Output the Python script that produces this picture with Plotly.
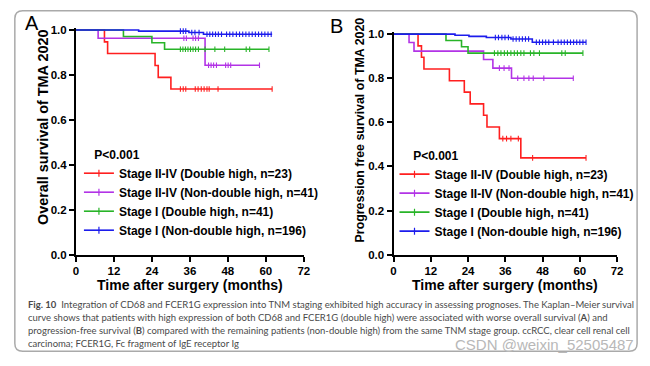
import plotly.graph_objects as go

W, H = 650, 366

# ---------------- data ----------------
month_ticks = [0, 12, 24, 36, 48, 60, 72]
surv_ticks = [0.0, 0.2, 0.4, 0.6, 0.8, 1.0]
surv_tick_labels = ["0.0", "0.2", "0.4", "0.6", "0.8", "1.0"]

group_names = [
    "Stage II-IV (Double high, n=23)",
    "Stage II-IV (Non-double high, n=41)",
    "Stage I (Double high, n=41)",
    "Stage I (Non-double high, n=196)",
]
group_colors = ["#ff1f1f", "#b233e6", "#28b428", "#1c1cec"]

# Panel A: overall survival (event times, survival after event, follow-up end, censor times)
os_red_times = [9.0, 10.0, 25.0, 26.0, 30.0]
os_red_surv = [0.947, 0.895, 0.842, 0.789, 0.737]
os_red_end = 62.0
os_red_censor = [33.0, 33.9, 34.7, 37.7, 38.6, 39.6, 40.5, 41.4, 42.1, 44.9, 62.0]

os_purple_times = [7.0, 40.8]
os_purple_surv = [0.963, 0.843]
os_purple_end = 58.0
os_purple_censor = [34.1, 34.9, 37.0, 37.8, 38.7, 41.9, 42.7, 43.5, 44.4, 47.3, 48.1, 48.9, 58.0]

os_green_times = [15.0, 24.0, 28.0]
os_green_surv = [0.971, 0.943, 0.914]
os_green_end = 61.0
os_green_censor = [33.0, 33.8, 34.6, 35.4, 36.2, 37.0, 37.8, 38.7, 40.8, 43.9, 47.0, 53.8, 54.9, 61.0]

os_blue_times = [19.8, 35.7, 40.3]
os_blue_surv = [0.995, 0.989, 0.981]
os_blue_end = 62.0
os_blue_censor = [33.0, 33.9, 34.7, 36.6, 37.6, 38.9, 41.4, 42.3, 43.2, 44.1, 45.0, 46.0, 47.6, 48.6,
                  49.6, 50.7, 51.7, 52.7, 53.7, 54.7, 55.7, 56.7, 57.7, 58.7, 59.7, 60.7, 61.7]

# Panel B: progression-free survival
pfs_red_times = [7.9, 9.0, 9.8, 18.0, 22.8, 24.7, 29.0, 30.1, 34.1, 41.0]
pfs_red_surv = [0.947, 0.895, 0.842, 0.789, 0.737, 0.684, 0.632, 0.579, 0.526, 0.439]
pfs_red_end = 62.0
pfs_red_censor = [35.2, 36.4, 37.8, 40.2, 44.8, 62.0]

pfs_purple_times = [5.0, 6.6, 29.0, 32.0, 38.0]
pfs_purple_surv = [0.962, 0.923, 0.885, 0.846, 0.800]
pfs_purple_end = 57.9
pfs_purple_censor = [34.1, 35.6, 37.2, 40.0, 42.0, 43.6, 45.0, 48.4, 57.9]

pfs_green_times = [16.9, 21.9, 24.0]
pfs_green_surv = [0.971, 0.943, 0.914]
pfs_green_end = 61.0
pfs_green_censor = [32.5, 33.6, 34.6, 35.7, 36.7, 37.8, 38.9, 39.9, 41.0, 42.0, 44.1, 45.2, 47.0,
                    54.2, 55.3, 61.0]

pfs_blue_times = [19.8, 24.3, 29.9, 37.8, 44.7]
pfs_blue_surv = [0.995, 0.990, 0.985, 0.978, 0.963]
pfs_blue_end = 62.0
pfs_blue_censor = [32.8, 33.8, 34.9, 35.9, 37.0, 38.5, 39.5, 40.5, 41.5, 42.5, 43.5, 46.0, 47.0, 48.0,
                   49.0, 50.0, 51.5, 53.0, 54.0, 55.0, 56.0, 57.0, 58.0, 59.0, 60.0, 61.0, 62.0]

os_curves = [
    (os_red_times, os_red_surv, os_red_end, os_red_censor),
    (os_purple_times, os_purple_surv, os_purple_end, os_purple_censor),
    (os_green_times, os_green_surv, os_green_end, os_green_censor),
    (os_blue_times, os_blue_surv, os_blue_end, os_blue_censor),
]
pfs_curves = [
    (pfs_red_times, pfs_red_surv, pfs_red_end, pfs_red_censor),
    (pfs_purple_times, pfs_purple_surv, pfs_purple_end, pfs_purple_censor),
    (pfs_green_times, pfs_green_surv, pfs_green_end, pfs_green_censor),
    (pfs_blue_times, pfs_blue_surv, pfs_blue_end, pfs_blue_censor),
]

p_value_text = "P&lt;0.001"
x_title = "Time after surgery (months)"
y_title_a = "Overall survival of TMA 2020"
y_title_b = "Progression free survival of TMA 2020"
caption_lines = [
    "<b>Fig. 10</b>  Integration of CD68 and FCER1G expression into TNM staging exhibited high accuracy in assessing prognoses. The Kaplan–Meier survival",
    "curve shows that patients with high expression of both CD68 and FCER1G (double high) were associated with worse overall survival (<b>A</b>) and",
    "progression-free survival (<b>B</b>) compared with the remaining patients (non-double high) from the same TNM stage group. ccRCC, clear cell renal cell",
    "carcinoma; FCER1G, Fc fragment of IgE receptor Ig",
]
watermark = "CSDN @weixin_52505487"

# ---------------- helpers ----------------
FONT = "Arial, 'Liberation Sans', sans-serif"


def fx(px):
    return px / W


def fy(py):
    return 1 - py / H


def level_at(times, surv, t):
    s = 1.0
    for ti, si in zip(times, surv):
        if ti <= t:
            s = si
    return s


fig = go.Figure()

panels = [
    (os_curves, "x", "y", "legend"),
    (pfs_curves, "x2", "y2", "legend2"),
]
for curves, xa, ya, lg in panels:
    for (times, surv, end, cens), name, col in zip(curves, group_names, group_colors):
        xs = [0.0] + list(times) + [end]
        ys = [1.0] + list(surv) + [surv[-1]]
        fig.add_trace(go.Scatter(x=xs, y=ys, mode="lines", line=dict(color=col, width=1.6, shape="hv"),
                                 xaxis=xa, yaxis=ya, showlegend=False, hoverinfo="skip"))
        fig.add_trace(go.Scatter(x=cens, y=[level_at(times, surv, c) for c in cens], mode="markers",
                                 marker=dict(symbol="line-ns", size=4, line=dict(color=col, width=1.1)),
                                 xaxis=xa, yaxis=ya, showlegend=False, hoverinfo="skip"))
        fig.add_trace(go.Scatter(x=[None], y=[None], mode="lines+markers", name=name,
                                 line=dict(color=col, width=1.6),
                                 marker=dict(symbol="line-ns", size=5, line=dict(color=col, width=1.2)),
                                 xaxis=xa, yaxis=ya, legend=lg))

axis_common = dict(showgrid=False, zeroline=False, showline=True, linecolor="black", linewidth=2,
                   ticks="outside", ticklen=5, tickwidth=2, tickcolor="black",
                   tickfont=dict(family=FONT, size=11.5, color="black", weight="bold"))

# plot-area pixel boxes
A_left, A_right, A_top, A_bot = 74, 305, 26.7, 257.7
B_left, B_right, B_top, B_bot = 396, 622.7, 31, 257.7
ytop = 1.01


def ydom(top, bot):
    span = bot - top
    return [fy(bot), fy(top - (ytop - 1.0) * span)]


fig.update_layout(
    width=W, height=H, margin=dict(l=0, r=0, t=0, b=0),
    paper_bgcolor="white", plot_bgcolor="white", hovermode=False,
    xaxis=dict(domain=[fx(A_left), fx(A_right)], range=[0, 72], tickvals=month_ticks, anchor="y", **axis_common),
    yaxis=dict(domain=ydom(A_top, A_bot), range=[0, ytop], tickvals=surv_ticks, ticktext=surv_tick_labels,
               anchor="x", **axis_common),
    xaxis2=dict(domain=[fx(B_left), fx(B_right)], range=[0, 72], tickvals=month_ticks, anchor="y2", **axis_common),
    yaxis2=dict(domain=ydom(B_top, B_bot), range=[0, ytop], tickvals=surv_ticks, ticktext=surv_tick_labels,
                anchor="x2", **axis_common),
)

legend_common = dict(xanchor="left", yanchor="top", bgcolor="rgba(0,0,0,0)", borderwidth=0,
                     font=dict(family=FONT, size=12, color="black", weight="bold"),
                     tracegroupgap=0, itemwidth=30, itemclick=False, itemdoubleclick=False)
fig.update_layout(
    legend=dict(x=fx(77), y=fy(143),
                title=dict(text="\u00a0\u00a0\u00a0\u00a0" + p_value_text, side="top",
                           font=dict(family=FONT, size=12, color="black", weight="bold")),
                **legend_common),
    legend2=dict(x=fx(397), y=fy(144),
                 title=dict(text="\u00a0\u00a0\u00a0\u00a0\u00a0" + p_value_text, side="top",
                            font=dict(family=FONT, size=12, color="black", weight="bold")),
                 **legend_common),
)

ann = []
# panel letters
ann.append(dict(text="A", x=fx(29), y=fy(20), xref="paper", yref="paper", showarrow=False,
                font=dict(family=FONT, size=20, color="black"), xanchor="center", yanchor="middle"))
ann.append(dict(text="B", x=fx(338), y=fy(22.5), xref="paper", yref="paper", showarrow=False,
                font=dict(family=FONT, size=20, color="black"), xanchor="center", yanchor="middle"))
# axis titles
for cx in [(A_left + A_right) / 2, (B_left + B_right) / 2]:
    ann.append(dict(text=x_title, x=fx(cx), y=fy(289), xref="paper", yref="paper", showarrow=False,
                    font=dict(family=FONT, size=14, color="black", weight="bold"),
                    xanchor="center", yanchor="middle"))
ann.append(dict(text=y_title_a, x=fx(40), y=fy(127), xref="paper", yref="paper", showarrow=False,
                textangle=-90, font=dict(family=FONT, size=14.4, color="black", weight="bold"),
                xanchor="center", yanchor="middle"))
ann.append(dict(text=y_title_b, x=fx(361.5), y=fy(129.5), xref="paper", yref="paper", showarrow=False,
                textangle=-90, font=dict(family=FONT, size=12.4, color="black", weight="bold"),
                xanchor="center", yanchor="middle"))
# caption
cap_font = "Lato, 'Noto Sans', sans-serif"
for i, line in enumerate(caption_lines):
    ann.append(dict(text=line, x=fx(23), y=fy(309 + 13.4 * i), xref="paper", yref="paper",
                    showarrow=False, xanchor="left", yanchor="middle",
                    font=dict(family=cap_font, size=9.5, color="#4a4a4a")))
ann.append(dict(text=watermark, x=fx(642), y=fy(350), xref="paper", yref="paper", showarrow=False,
                xanchor="right", yanchor="middle",
                font=dict(family=FONT, size=15, color="#b8b8b8")))
fig.update_layout(annotations=ann)

# rounded frame around the figure
x0, x1, y0, y1, r = 12, 643, 7, 357, 8
def P(px, py):
    return f"{fx(px):.5f},{fy(py):.5f}"
path = (f"M{P(x0 + r, y0)} L{P(x1 - r, y0)} Q{P(x1, y0)} {P(x1, y0 + r)} L{P(x1, y1 - r)} "
        f"Q{P(x1, y1)} {P(x1 - r, y1)} L{P(x0 + r, y1)} Q{P(x0, y1)} {P(x0, y1 - r)} "
        f"L{P(x0, y0 + r)} Q{P(x0, y0)} {P(x0 + r, y0)} Z")
fig.add_shape(type="path", path=path, xref="paper", yref="paper",
              line=dict(color="#aaaaaa", width=1.5), layer="below")

fig.write_html("out.html", config={"displayModeBar": False, "staticPlot": True},
               post_script="document.body.style.margin='0';document.body.style.overflow='hidden';")
